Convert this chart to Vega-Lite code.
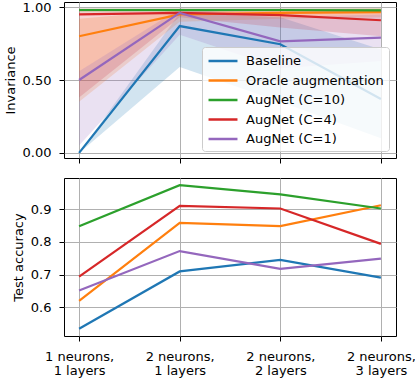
{
  "$schema": "https://vega.github.io/schema/vega-lite/v6.json",
  "padding": {"left": 3, "top": 0, "right": 0, "bottom": 0},
  "background": "white",
  "config": {
    "font": "DejaVu Sans",
    "view": {"stroke": "black", "strokeWidth": 1},
    "axis": {
      "domain": false,
      "grid": true,
      "gridColor": "#b0b0b0",
      "gridWidth": 1,
      "tickColor": "black",
      "tickSize": 5,
      "tickWidth": 1,
      "labelFontSize": 13,
      "labelColor": "black",
      "titleFontSize": 13,
      "titleFontWeight": "normal",
      "titleColor": "black"
    },
    "legend": {
      "labelFontSize": 13,
      "labelColor": "black",
      "labelFont": "DejaVu Sans"
    }
  },
  "data": {
    "values": [
      {"cfg": "1 neurons,|1 layers", "series": "Baseline", "inv": 0.00, "lo": 0.00, "hi": 0.00, "acc": 0.535},
      {"cfg": "2 neurons,|1 layers", "series": "Baseline", "inv": 0.87, "lo": 0.59, "hi": 0.96, "acc": 0.710},
      {"cfg": "2 neurons,|2 layers", "series": "Baseline", "inv": 0.745, "lo": 0.35, "hi": 0.93, "acc": 0.745},
      {"cfg": "2 neurons,|3 layers", "series": "Baseline", "inv": 0.37, "lo": 0.10, "hi": 0.71, "acc": 0.691},
      {"cfg": "1 neurons,|1 layers", "series": "Oracle augmentation", "inv": 0.80, "lo": 0.35, "hi": 0.92, "acc": 0.620},
      {"cfg": "2 neurons,|1 layers", "series": "Oracle augmentation", "inv": 0.95, "lo": 0.90, "hi": 0.98, "acc": 0.858},
      {"cfg": "2 neurons,|2 layers", "series": "Oracle augmentation", "inv": 0.96, "lo": 0.92, "hi": 0.985, "acc": 0.848},
      {"cfg": "2 neurons,|3 layers", "series": "Oracle augmentation", "inv": 0.965, "lo": 0.93, "hi": 0.99, "acc": 0.912},
      {"cfg": "1 neurons,|1 layers", "series": "AugNet (C=10)", "inv": 0.98, "lo": 0.965, "hi": 0.99, "acc": 0.848},
      {"cfg": "2 neurons,|1 layers", "series": "AugNet (C=10)", "inv": 0.98, "lo": 0.965, "hi": 0.99, "acc": 0.973},
      {"cfg": "2 neurons,|2 layers", "series": "AugNet (C=10)", "inv": 0.98, "lo": 0.97, "hi": 0.99, "acc": 0.945},
      {"cfg": "2 neurons,|3 layers", "series": "AugNet (C=10)", "inv": 0.977, "lo": 0.965, "hi": 0.99, "acc": 0.902},
      {"cfg": "1 neurons,|1 layers", "series": "AugNet (C=4)", "inv": 0.95, "lo": 0.38, "hi": 0.99, "acc": 0.694},
      {"cfg": "2 neurons,|1 layers", "series": "AugNet (C=4)", "inv": 0.96, "lo": 0.93, "hi": 0.99, "acc": 0.910},
      {"cfg": "2 neurons,|2 layers", "series": "AugNet (C=4)", "inv": 0.945, "lo": 0.86, "hi": 0.99, "acc": 0.902},
      {"cfg": "2 neurons,|3 layers", "series": "AugNet (C=4)", "inv": 0.91, "lo": 0.80, "hi": 0.99, "acc": 0.794},
      {"cfg": "1 neurons,|1 layers", "series": "AugNet (C=1)", "inv": 0.50, "lo": 0.05, "hi": 0.56, "acc": 0.652},
      {"cfg": "2 neurons,|1 layers", "series": "AugNet (C=1)", "inv": 0.96, "lo": 0.81, "hi": 0.99, "acc": 0.772},
      {"cfg": "2 neurons,|2 layers", "series": "AugNet (C=1)", "inv": 0.765, "lo": 0.58, "hi": 0.93, "acc": 0.718},
      {"cfg": "2 neurons,|3 layers", "series": "AugNet (C=1)", "inv": 0.79, "lo": 0.63, "hi": 0.95, "acc": 0.749}
    ]
  },
  "resolve": {"legend": {"color": "independent"}},
  "spacing": 13,
  "vconcat": [
    {
      "width": 332,
      "height": 156,
      "encoding": {
        "x": {
          "field": "cfg", "type": "nominal",
          "sort": ["1 neurons,|1 layers", "2 neurons,|1 layers", "2 neurons,|2 layers", "2 neurons,|3 layers"],
          "scale": {"type": "point", "padding": 0.15},
          "axis": {"labels": false, "title": null, "ticks": true}
        }
      },
      "layer": [
        {
          "mark": {"type": "area", "opacity": 0.2},
          "encoding": {
            "y": {"field": "lo", "type": "quantitative",
                  "scale": {"domain": [-0.035, 1.035], "nice": false, "zero": false}},
            "y2": {"field": "hi"},
            "color": {"field": "series", "type": "nominal",
              "scale": {
                "domain": ["Baseline", "Oracle augmentation", "AugNet (C=10)", "AugNet (C=4)", "AugNet (C=1)"],
                "range": ["#1f77b4", "#ff7f0e", "#2ca02c", "#d62728", "#9467bd"]
              }}
          }
        },
        {
          "mark": {"type": "line", "strokeWidth": 2.2},
          "encoding": {
            "y": {"field": "inv", "type": "quantitative",
                  "scale": {"domain": [-0.035, 1.035], "nice": false, "zero": false},
                  "axis": {"values": [0, 0.25, 0.5, 0.75, 1], "format": ".2f", "title": "Invariance",
                           "labelPadding": 8, "titlePadding": 5}},
            "color": {"field": "series", "type": "nominal",
              "scale": {
                "domain": ["Baseline", "Oracle augmentation", "AugNet (C=10)", "AugNet (C=4)", "AugNet (C=1)"],
                "range": ["#1f77b4", "#ff7f0e", "#2ca02c", "#d62728", "#9467bd"]
              },
              "legend": {
                "title": null,
                "orient": "bottom-right",
                "offset": 7,
                "symbolType": "M-1.93,0H1.93",
                "symbolSize": 225,
                "symbolStrokeWidth": 2.5,
                "symbolOffset": 7,
                "rowPadding": 3.5,
                "labelOffset": 14,
                "padding": 5,
                "fillColor": "rgba(255,255,255,0.8)",
                "strokeColor": "#cccccc",
                "cornerRadius": 3,
                "encode": {"symbols": {"update": {"opacity": {"value": 1}, "strokeOpacity": {"value": 1}}}}
              }}
          }
        }
      ]
    },
    {
      "width": 332,
      "height": 158,
      "mark": {"type": "line", "strokeWidth": 2.2},
      "encoding": {
        "x": {
          "field": "cfg", "type": "nominal",
          "sort": ["1 neurons,|1 layers", "2 neurons,|1 layers", "2 neurons,|2 layers", "2 neurons,|3 layers"],
          "scale": {"type": "point", "padding": 0.15},
          "axis": {"title": null, "labelAngle": 0, "labelExpr": "split(datum.label, '|')",
                   "labelLineHeight": 14.5, "labelPadding": 9, "labelBaseline": "top"}
        },
        "y": {"field": "acc", "type": "quantitative",
              "scale": {"domain": [0.513, 0.995], "nice": false, "zero": false},
              "axis": {"values": [0.6, 0.7, 0.8, 0.9], "format": ".1f", "title": "Test accuracy",
                       "labelPadding": 8, "titlePadding": 5}},
        "color": {"field": "series", "type": "nominal", "legend": null,
          "scale": {
            "domain": ["Baseline", "Oracle augmentation", "AugNet (C=10)", "AugNet (C=4)", "AugNet (C=1)"],
            "range": ["#1f77b4", "#ff7f0e", "#2ca02c", "#d62728", "#9467bd"]
          }}
      }
    }
  ]
}
